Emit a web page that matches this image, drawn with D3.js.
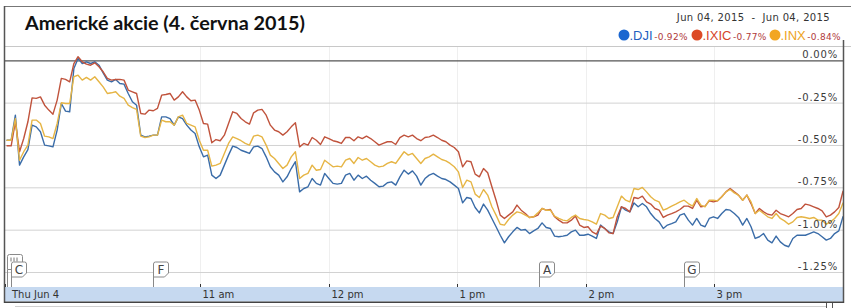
<!DOCTYPE html>
<html><head><meta charset="utf-8">
<script src="https://cdn.jsdelivr.net/npm/d3@7"></script>
<style>body{margin:0;background:#fff}svg{display:block}</style>
</head><body>
<svg id="chart" width="851" height="308"></svg>
<script>
const title = "Americké akcie (4. června 2015)";
const dateRange = "Jun 04, 2015  -  Jun 04, 2015";
const seriesNames = [".DJI", ".IXIC", ".INX"];
const seriesChange = ["-0.92%", "-0.77%", "-0.84%"];
const sessionStart = "09:30", sessionEnd = "16:00";
const yTicks = [0, -0.25, -0.5, -0.75, -1, -1.25];
const yTickLabels = ["0.00%", "-0.25%", "-0.50%", "-0.75%", "-1.00%", "-1.25%"];
const xTickTimes = ["09:30", "11:00", "12:00", "13:00", "14:00", "15:00"];
const xTickLabels = ["Thu Jun 4", "11 am", "12 pm", "1 pm", "2 pm", "3 pm"];
const flagLabels = ["", "C", "F", "A", "G"];
const flagTimes = ["09:30", "09:32", "10:38", "13:38", "14:46"];
const flagStack = [1, 0, 0, 0, 0];

const dji = [-0.469,-0.469,-0.321,-0.616,-0.567,-0.524,-0.380,-0.390,-0.419,-0.498,
-0.502,-0.508,-0.409,-0.252,-0.297,-0.301,-0.045,0.014,-0.016,-0.006,
-0.016,-0.006,-0.026,-0.071,-0.114,-0.124,-0.110,-0.134,-0.138,-0.193,
-0.242,-0.262,-0.439,-0.449,-0.445,-0.439,-0.439,-0.331,-0.331,-0.341,
-0.380,-0.331,-0.341,-0.380,-0.409,-0.429,-0.508,-0.567,-0.557,-0.675,
-0.695,-0.675,-0.616,-0.557,-0.504,-0.512,-0.528,-0.537,-0.547,-0.508,
-0.504,-0.518,-0.567,-0.626,-0.656,-0.675,-0.715,-0.685,-0.636,-0.596,
-0.774,-0.754,-0.744,-0.695,-0.724,-0.734,-0.665,-0.695,-0.724,-0.728,
-0.724,-0.675,-0.665,-0.705,-0.675,-0.695,-0.681,-0.705,-0.724,-0.744,
-0.740,-0.720,-0.715,-0.734,-0.685,-0.646,-0.669,-0.650,-0.681,-0.734,
-0.695,-0.675,
-0.665,-0.681,-0.695,-0.701,-0.715,-0.734,-0.754,-0.839,
-0.807,-0.813,-0.866,-0.898,-0.846,-0.882,-0.931,-0.980,-1.030,-1.075,
-1.039,-1.010,-0.984,-1.000,-0.996,-1.020,-1.004,-0.990,-0.957,-0.984,
-0.990,-1.035,-1.039,-1.035,-1.030,-1.010,-1.000,-1.030,-1.030,-1.024,
-1.035,-1.049,-0.970,-0.990,-1.010,-1.020,-0.951,-0.862,-0.882,-0.892,
-0.839,-0.862,-0.843,-0.862,-0.902,-0.931,-0.951,-0.990,-0.970,-0.961,
-0.951,-0.911,-0.902,-0.941,-0.970,-0.931,-0.970,-0.980,-0.931,-0.921,
-0.931,-0.902,-0.878,-0.882,-0.902,-0.925,-0.970,-0.931,-0.980,-1.049,
-1.039,-1.020,-1.059,-1.075,-1.035,-1.069,-1.089,-1.098,-1.049,-1.030,
-1.030,-1.030,-1.020,-1.010,-1.020,-1.039,-1.059,-1.049,-1.020,-1.004,
-0.920];

const ixic = [-0.502,-0.502,-0.360,-0.537,-0.459,-0.360,-0.219,-0.222,-0.213,-0.262,
-0.291,-0.315,-0.232,-0.104,-0.110,-0.124,-0.016,0.024,-0.006,-0.020,
-0.026,-0.012,-0.035,-0.065,-0.104,-0.114,-0.110,-0.110,-0.114,-0.173,
-0.183,-0.193,-0.311,-0.315,-0.291,-0.295,-0.281,-0.203,-0.199,-0.193,
-0.232,-0.213,-0.183,-0.213,-0.236,-0.232,-0.291,-0.370,-0.374,-0.484,
-0.465,-0.472,-0.439,-0.370,-0.301,-0.311,-0.341,-0.360,-0.374,-0.307,
-0.291,-0.287,-0.321,-0.380,-0.409,-0.419,-0.439,-0.419,-0.390,-0.366,
-0.508,-0.488,-0.498,-0.453,-0.469,-0.494,-0.449,-0.459,-0.472,-0.478,
-0.488,-0.453,-0.453,-0.472,-0.449,-0.459,-0.445,-0.459,-0.478,-0.498,
-0.488,-0.478,-0.478,-0.494,-0.453,-0.439,-0.449,-0.439,-0.459,-0.472,
-0.453,-0.449,
-0.439,-0.453,-0.469,-0.478,-0.498,-0.512,-0.537,-0.626,
-0.591,-0.596,-0.669,-0.685,-0.636,-0.661,-0.744,-0.823,-0.911,-0.931,
-0.911,-0.892,-0.852,-0.882,-0.902,-0.925,-0.921,-0.911,-0.872,-0.882,
-0.878,-0.921,-0.941,-0.957,-0.957,-0.941,-0.917,-0.970,-0.984,-0.980,
-1.010,-1.024,-0.976,-0.990,-1.016,-1.020,-0.921,-0.862,-0.872,-0.892,
-0.807,-0.813,-0.799,-0.833,-0.846,-0.872,-0.882,-0.925,-0.911,-0.902,
-0.892,-0.878,-0.858,-0.858,-0.872,-0.823,-0.862,-0.858,-0.827,-0.833,
-0.827,-0.803,-0.774,-0.754,-0.774,-0.793,-0.823,-0.793,-0.843,-0.902,
-0.872,-0.892,-0.906,-0.911,-0.882,-0.902,-0.911,-0.921,-0.902,-0.878,
-0.872,-0.846,-0.852,-0.862,-0.872,-0.886,-0.921,-0.911,-0.892,-0.866,
-0.770];

const inx = [-0.469,-0.469,-0.341,-0.587,-0.537,-0.498,-0.350,-0.350,-0.370,-0.445,
-0.449,-0.459,-0.370,-0.248,-0.252,-0.252,-0.094,-0.085,-0.114,-0.098,
-0.114,-0.094,-0.124,-0.154,-0.193,-0.189,-0.183,-0.209,-0.222,-0.262,
-0.276,-0.287,-0.445,-0.453,-0.449,-0.439,-0.439,-0.350,-0.360,-0.360,
-0.380,-0.331,-0.321,-0.370,-0.380,-0.390,-0.469,-0.528,-0.528,-0.622,
-0.616,-0.606,-0.547,-0.488,-0.449,-0.459,-0.472,-0.488,-0.498,-0.445,
-0.439,-0.449,-0.498,-0.557,-0.577,-0.606,-0.636,-0.616,-0.567,-0.537,
-0.695,-0.675,-0.665,-0.616,-0.646,-0.642,-0.587,-0.606,-0.626,-0.622,
-0.626,-0.587,-0.577,-0.606,-0.571,-0.587,-0.577,-0.596,-0.616,-0.626,
-0.622,-0.606,-0.596,-0.606,-0.571,-0.537,-0.557,-0.547,-0.577,-0.606,
-0.577,-0.567,
-0.551,-0.567,-0.583,-0.591,-0.606,-0.626,-0.656,-0.748,
-0.705,-0.715,-0.787,-0.807,-0.760,-0.793,-0.862,-0.911,-0.965,-0.970,
-0.937,-0.911,-0.892,-0.898,-0.911,-0.925,-0.921,-0.898,-0.872,-0.882,
-0.882,-0.917,-0.931,-0.941,-0.945,-0.925,-0.911,-0.931,-0.937,-0.941,
-0.951,-0.965,-0.902,-0.911,-0.931,-0.925,-0.862,-0.799,-0.823,-0.833,
-0.754,-0.760,-0.748,-0.774,-0.803,-0.823,-0.833,-0.882,-0.872,-0.858,
-0.846,-0.833,-0.823,-0.843,-0.858,-0.813,-0.852,-0.862,-0.823,-0.823,
-0.827,-0.803,-0.774,-0.760,-0.780,-0.793,-0.823,-0.793,-0.833,-0.902,
-0.882,-0.902,-0.921,-0.931,-0.902,-0.931,-0.945,-0.965,-0.951,-0.925,
-0.921,-0.925,-0.931,-0.925,-0.941,-0.941,-0.965,-0.951,-0.931,-0.902,
-0.840];

const lineColors = ["#3a6ca8", "#c0533c", "#e6b545"];
const dotColors = ["#1a66d0", "#dc4a26", "#f2a623"];
const nameColors = ["#1f5fbf", "#d6452a", "#eea322"];

const svg = d3.select("#chart");
const W = 851, H = 308;
const parseT = d3.timeParse("%Y-%m-%d %H:%M");
const day = "2015-06-04 ";
const t0 = parseT(day + sessionStart), t1 = parseT(day + sessionEnd);

const plotL = 5, plotR = 843, plotT = 46, axisTop = 287, axisBot = 301.5;
const x = d3.scaleTime().domain([t0, t1]).range([7, 843]);
const y = d3.scaleLinear().domain([-1.25, 0]).range([272.5, 60.8]);

// frame
svg.append("rect").attr("x", 0).attr("y", 0).attr("width", W).attr("height", H).attr("fill", "#fff");
svg.append("line").attr("x1", 4).attr("x2", 851).attr("y1", 6.5).attr("y2", 6.5).attr("stroke", "#777").attr("stroke-width", 1);
svg.append("line").attr("x1", 4).attr("x2", 851).attr("y1", 46.5).attr("y2", 46.5).attr("stroke", "#c8c8c8").attr("stroke-width", 1);

// title
const titleText = svg.append("text").attr("x", 25).attr("y", 30)
  .attr("font-family", "Lato, 'Open Sans', sans-serif").attr("font-weight", 700)
  .attr("font-size", 19.5).attr("fill", "#111").text(title);
const tw = titleText.node().getComputedTextLength();
titleText.attr("font-size", 19.5 * 280 / tw);

// date range
svg.append("text").attr("x", 830).attr("y", 21).attr("text-anchor", "end")
  .attr("font-family", "'DejaVu Sans', Verdana, sans-serif").attr("font-size", 10)
  .attr("letter-spacing", 0.35).style("white-space", "pre").attr("fill", "#333").text(dateRange);

// legend
const legendDotX = [624, 697, 775];
seriesNames.forEach((n, i) => {
  const g = svg.append("g");
  const cx = legendDotX[i];
  g.append("circle").attr("cx", cx).attr("cy", 35).attr("r", 5.5).attr("fill", dotColors[i]);
  const nt = g.append("text").attr("x", cx + 5.5).attr("y", 40)
    .attr("font-family", "'Liberation Sans', Arial, sans-serif").attr("font-size", 13)
    .attr("fill", nameColors[i]).text(n);
  const nw = nt.node().getComputedTextLength();
  g.append("text").attr("x", cx + 5.5 + nw + 1.5).attr("y", 40)
    .attr("font-family", "'DejaVu Sans', Verdana, sans-serif").attr("font-size", 9)
    .attr("letter-spacing", 0.3).attr("fill", "#b03a3a").text(seriesChange[i]);
});

// grid
const grid = svg.append("g");
const hourTicks = xTickTimes.map(s => parseT(day + s));
hourTicks.slice(1).forEach(t => {
  grid.append("line").attr("x1", Math.round(x(t)) + 0.5).attr("x2", Math.round(x(t)) + 0.5)
    .attr("y1", plotT + 1).attr("y2", axisTop).attr("stroke", "#efefef");
});
yTicks.forEach((v, i) => {
  const yy = y(v);
  grid.append("line").attr("x1", plotL).attr("x2", plotR).attr("y1", yy).attr("y2", yy)
    .attr("stroke", v === 0 ? "#555" : "#d2d2d2").attr("stroke-width", v === 0 ? 1.3 : 1);
});

// series lines
const times = dji.map((_, i) => new Date(+t0 + i * (t1 - t0) / (dji.length - 1)));
const line = d3.line().x((d, i) => x(times[i])).y(d => y(d));
[dji, ixic, inx].forEach((s, i) => {
  svg.append("path").attr("d", line(s)).attr("fill", "none")
    .attr("stroke", lineColors[i]).attr("stroke-width", 1.4)
    .attr("stroke-linejoin", "round").attr("stroke-linecap", "round");
});

// y labels
yTicks.forEach((v, i) => {
  svg.append("text").attr("x", 838).attr("y", y(v) - 2.5).attr("text-anchor", "end")
    .attr("font-family", "'DejaVu Sans', Verdana, sans-serif").attr("font-size", 10)
    .attr("letter-spacing", 0.8).attr("fill", "#3a3a3a").text(yTickLabels[i]);
});

// flags
flagLabels.forEach((lab, i) => {
  const fx = Math.round(x(parseT(day + flagTimes[i]))) + 0.5;
  const fw = 15, fh = 15;
  const fy = 262 - flagStack[i] * 7.5;
  const g = svg.append("g");
  g.append("line").attr("x1", fx).attr("x2", fx).attr("y1", fy + fh).attr("y2", axisTop)
    .attr("stroke", "#888");
  g.append("path").attr("d",
    `M${fx},${fy + fh} L${fx},${fy + 2} Q${fx},${fy} ${fx + 2},${fy} L${fx + fw - 2},${fy} Q${fx + fw},${fy} ${fx + fw},${fy + 2} L${fx + fw},${fy + fh - 4} L${fx + fw - 4},${fy + fh} Z`)
    .attr("fill", "#fff").attr("stroke", "#8a8a8a");
  if (lab) {
    g.append("text").attr("x", fx + fw / 2).attr("y", fy + 12).attr("text-anchor", "middle")
      .attr("font-family", "'DejaVu Sans', Verdana, sans-serif").attr("font-size", 12)
      .attr("fill", "#444").text(lab);
  } else {
    [3.5, 6.5, 9.5].forEach(dx => g.append("line").attr("x1", fx + dx).attr("x2", fx + dx)
      .attr("y1", fy + 3).attr("y2", fy + 7).attr("stroke", "#777"));
  }
});

// x axis band
svg.append("rect").attr("x", plotL).attr("y", axisTop).attr("width", plotR - plotL).attr("height", axisBot - axisTop)
  .attr("fill", "#c6d9f0");
hourTicks.forEach((t, i) => {
  const xx = i === 0 ? 5.5 : Math.round(x(t)) + 0.5;
  svg.append("line").attr("x1", xx).attr("x2", xx).attr("y1", axisTop - 3).attr("y2", axisTop)
    .attr("stroke", "#333");
  svg.append("text").attr("x", i === 0 ? 12 : xx + 2).attr("y", 298)
    .attr("font-family", "'DejaVu Sans', Verdana, sans-serif").attr("font-size", 10)
    .attr("fill", "#333").text(xTickLabels[i]);
});

// outer frame of the chart panel
svg.append("line").attr("x1", 4.5).attr("x2", 4.5).attr("y1", 6).attr("y2", 303).attr("stroke", "#555").attr("stroke-width", 1.5);
svg.append("line").attr("x1", 843.5).attr("x2", 843.5).attr("y1", 40).attr("y2", 303).attr("stroke", "#555").attr("stroke-width", 1.5);
svg.append("line").attr("x1", 4).attr("x2", 844).attr("y1", 302.3).attr("y2", 302.3).attr("stroke", "#444").attr("stroke-width", 1.6);
svg.append("line").attr("x1", 15).attr("x2", 826).attr("y1", 306.5).attr("y2", 306.5).attr("stroke", "#d0d0d0");
svg.append("line").attr("x1", 826.5).attr("x2", 826.5).attr("y1", 303).attr("y2", 308).attr("stroke", "#555");
svg.append("line").attr("x1", 832.5).attr("x2", 832.5).attr("y1", 303).attr("y2", 308).attr("stroke", "#555");
</script>
</body></html>
